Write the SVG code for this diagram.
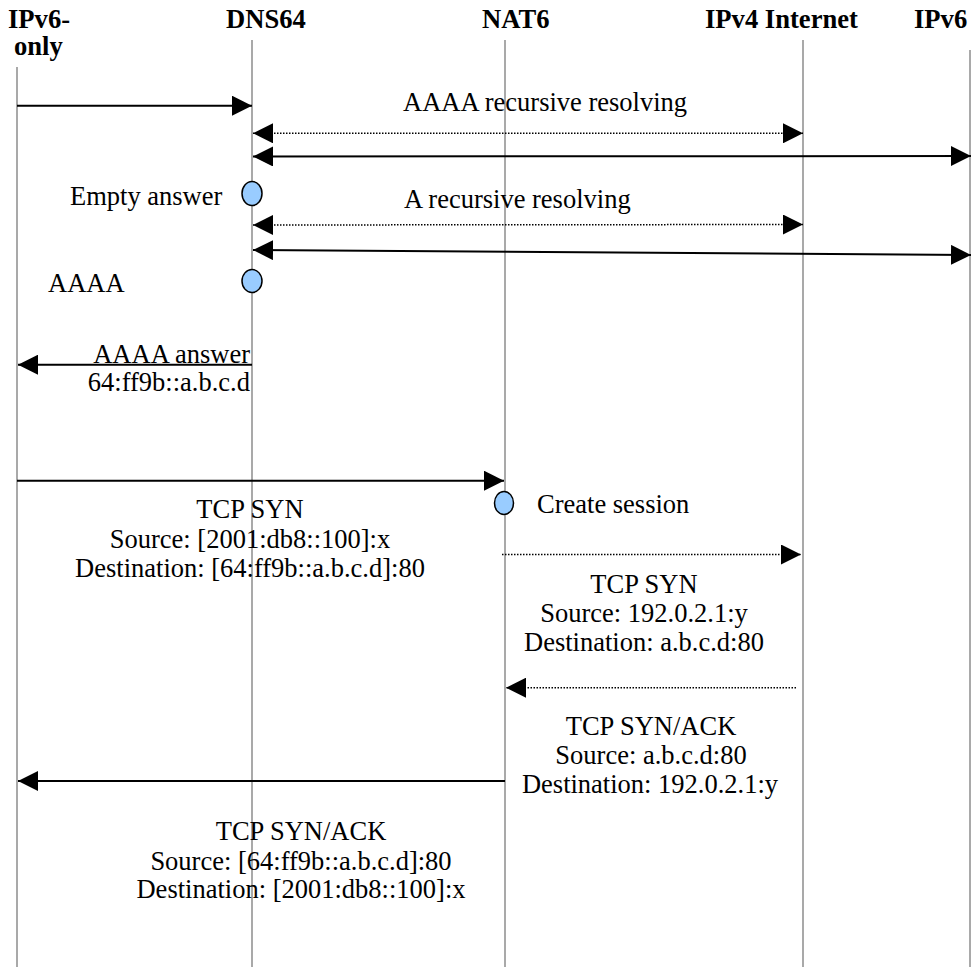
<svg xmlns="http://www.w3.org/2000/svg" width="972" height="967" viewBox="0 0 972 967">
<style>
.hdr{font-family:"Liberation Serif","Times New Roman",serif;font-weight:bold;font-size:26.6px;fill:#000}
.lbl{font-family:"Liberation Serif","Times New Roman",serif;font-size:26.5px;fill:#000}
.mid{text-anchor:middle}
.end{text-anchor:end}
.life{stroke:#8c8c8c;stroke-width:1.5;fill:none}
.msg{stroke:#000;stroke-width:2;fill:none}
.dot{stroke:#000;stroke-width:1.5;stroke-dasharray:1.5 1.5;fill:none}
.evt{fill:#99ccff;stroke:#000;stroke-width:1.5}
</style>
<defs>
<marker id="ah" viewBox="0 0 20 20" markerUnits="userSpaceOnUse" markerWidth="20" markerHeight="20" refX="20" refY="10" orient="auto-start-reverse">
<path d="M0,0 L20,10 L0,20 Z" fill="#000"/>
</marker>
</defs>
<rect width="972" height="967" fill="#fff"/>
<g id="ipv6only">
<line class="life" x1="17" y1="67" x2="17" y2="967"/>
<text class="hdr" x="8" y="28">IPv6-</text>
<text class="hdr" x="14" y="55">only</text>
</g>
<g id="dns64">
<line class="life" x1="252" y1="40" x2="252" y2="967"/>
<text class="hdr" x="226" y="28">DNS64</text>
</g>
<g id="nat6">
<line class="life" x1="505" y1="40" x2="505" y2="967"/>
<text class="hdr" x="482" y="28">NAT6</text>
</g>
<g id="ipv4internet">
<line class="life" x1="803" y1="40" x2="803" y2="967"/>
<text class="hdr" x="705" y="28">IPv4 Internet</text>
</g>
<g id="ipv6">
<line class="life" x1="970" y1="50" x2="970" y2="967"/>
<text class="hdr" x="914" y="28">IPv6</text>
</g>
<g id="connectors">
<line class="msg" x1="17" y1="105.7" x2="252" y2="105.7" marker-end="url(#ah)"/>
<line class="dot" x1="253" y1="133.3" x2="803" y2="133.3" marker-start="url(#ah)" marker-end="url(#ah)"/>
<line class="msg" x1="253" y1="156.5" x2="971" y2="156" marker-start="url(#ah)" marker-end="url(#ah)"/>
<line class="dot" x1="253" y1="225" x2="803" y2="224.5" marker-start="url(#ah)" marker-end="url(#ah)"/>
<line class="msg" x1="253" y1="250" x2="971" y2="255" marker-start="url(#ah)" marker-end="url(#ah)"/>
<line class="msg" x1="252" y1="364.7" x2="18" y2="364.7" marker-end="url(#ah)"/>
<line class="msg" x1="17" y1="480.7" x2="504" y2="480.7" marker-end="url(#ah)"/>
<line class="dot" x1="502" y1="554.5" x2="801" y2="554.5" marker-end="url(#ah)"/>
<line class="dot" x1="796" y1="687.7" x2="506" y2="687.7" marker-end="url(#ah)"/>
<line class="msg" x1="505" y1="781" x2="18" y2="781" marker-end="url(#ah)"/>
</g>
<g id="labels">
<text class="lbl" x="403" y="111">AAAA recursive resolving</text>
<text class="lbl" x="404" y="208">A recursive resolving</text>
<text class="lbl end" x="250" y="363">AAAA answer</text>
<text class="lbl end" x="250" y="391">64:ff9b::a.b.c.d</text>
<text class="lbl mid" x="250" y="518">TCP SYN</text>
<text class="lbl mid" x="250" y="548">Source: [2001:db8::100]:x</text>
<text class="lbl mid" x="250" y="577">Destination: [64:ff9b::a.b.c.d]:80</text>
<text class="lbl mid" x="644" y="593">TCP SYN</text>
<text class="lbl mid" x="644" y="622">Source: 192.0.2.1:y</text>
<text class="lbl mid" x="644" y="651">Destination: a.b.c.d:80</text>
<text class="lbl mid" x="651" y="735">TCP SYN/ACK</text>
<text class="lbl mid" x="651" y="764">Source: a.b.c.d:80</text>
<text class="lbl mid" x="650" y="793">Destination: 192.0.2.1:y</text>
<text class="lbl mid" x="301" y="840">TCP SYN/ACK</text>
<text class="lbl mid" x="301" y="870">Source: [64:ff9b::a.b.c.d]:80</text>
<text class="lbl mid" x="301" y="898">Destination: [2001:db8::100]:x</text>
</g>
<g id="evt-empty">
<ellipse class="evt" cx="252" cy="193.5" rx="10" ry="12"/>
<text class="lbl" x="70" y="205">Empty answer</text>
</g>
<g id="evt-aaaa">
<ellipse class="evt" cx="252" cy="281" rx="10" ry="11.5"/>
<text class="lbl" x="48" y="292">AAAA</text>
</g>
<g id="evt-session">
<ellipse class="evt" cx="504" cy="503" rx="9.5" ry="11.5"/>
<text class="lbl" x="537" y="513">Create session</text>
</g>
</svg>
